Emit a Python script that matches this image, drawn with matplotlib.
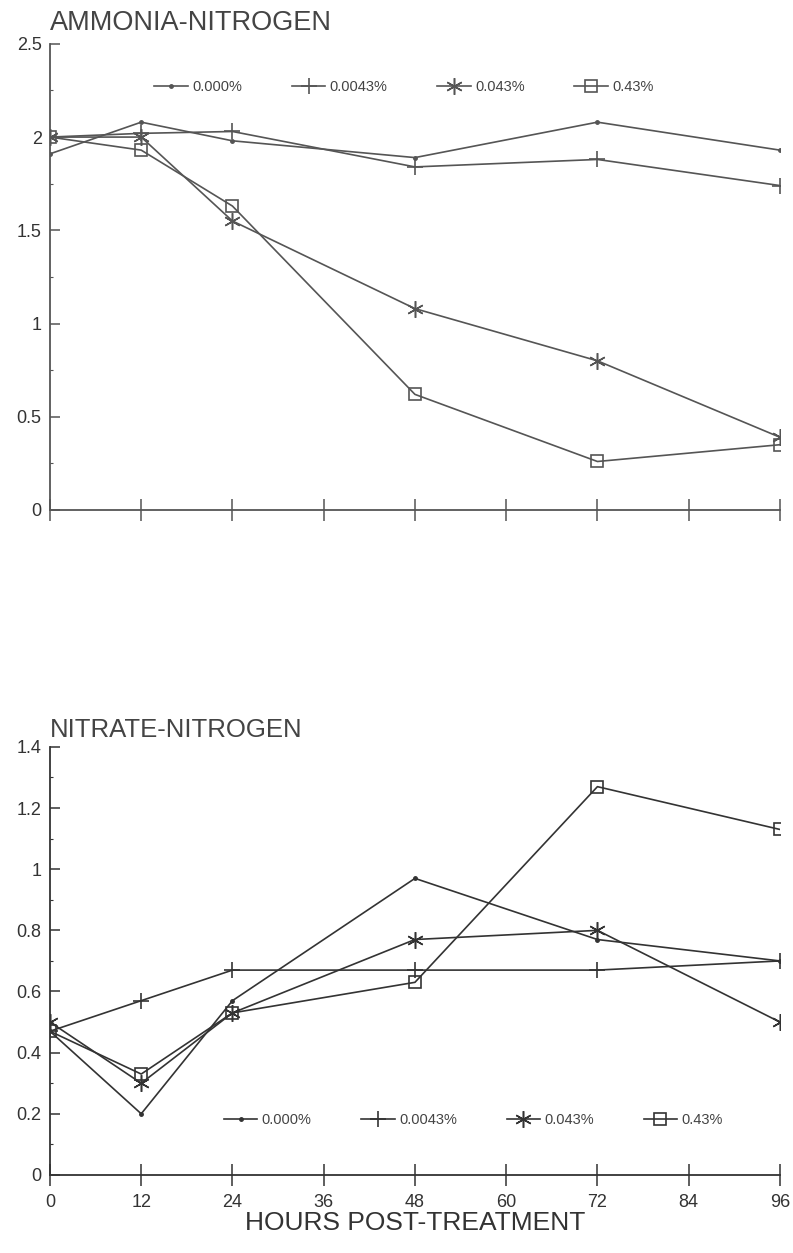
import matplotlib
matplotlib.use("Agg")
import matplotlib.pyplot as plt
from matplotlib.ticker import FuncFormatter, MultipleLocator

# datos
horas = [0, 12, 24, 48, 72, 96]
series = ["0.000%", "0.0043%", "0.043%", "0.43%"]

amonio_0000 = [1.91, 2.08, 1.98, 1.89, 2.08, 1.93]
amonio_00043 = [2.00, 2.02, 2.03, 1.84, 1.88, 1.74]
amonio_0043 = [2.00, 2.00, 1.55, 1.08, 0.80, 0.39]
amonio_043 = [2.00, 1.93, 1.63, 0.62, 0.26, 0.35]

nitrato_0000 = [0.47, 0.20, 0.57, 0.97, 0.77, 0.70]
nitrato_00043 = [0.47, 0.57, 0.67, 0.67, 0.67, 0.70]
nitrato_0043 = [0.50, 0.30, 0.53, 0.77, 0.80, 0.50]
nitrato_043 = [0.47, 0.33, 0.53, 0.63, 1.27, 1.13]

x_ticks = [0, 12, 24, 36, 48, 60, 72, 84, 96]

plt.rcParams['font.family'] = ['Liberation Sans', 'DejaVu Sans']

estilos = [
    dict(marker='.', markersize=5),
    dict(marker='+', markersize=12, markeredgewidth=1.2),
    dict(marker=(6, 2, 0), markersize=12, markeredgewidth=1.1),
    dict(marker='s', markersize=9, markerfacecolor='none', markeredgewidth=1.2),
]


def dibujar(ax, datos, color, ylim, ymajor, yminor, leg_pos):
    for valores, nombre, est in zip(datos, series, estilos):
        ax.plot(horas, valores, color=color, linewidth=1.2, label=nombre,
                markeredgecolor=color, **est)
    ax.set_xlim(0, 96)
    ax.set_ylim(*ylim)
    ax.set_xticks(x_ticks)
    ax.yaxis.set_major_locator(MultipleLocator(ymajor))
    ax.yaxis.set_minor_locator(MultipleLocator(yminor))
    ax.yaxis.set_major_formatter(FuncFormatter(lambda v, p: "%g" % round(v, 2)))
    for lado in ["top", "right"]:
        ax.spines[lado].set_visible(False)
    for lado in ["left", "bottom"]:
        ax.spines[lado].set_color(color)
        ax.spines[lado].set_linewidth(1.3)
    ax.tick_params(axis='x', direction='inout', length=16, width=1.1, color=color,
                   labelsize=13, labelcolor='#333333', pad=6)
    ax.tick_params(axis='y', which='major', direction='in', length=7, width=1.1,
                   color=color, labelsize=13, labelcolor='#333333', pad=6)
    ax.tick_params(axis='y', which='minor', direction='in', length=2, width=0.8,
                   color=color)
    ax.legend(loc='center', bbox_to_anchor=leg_pos, ncol=4, frameon=False,
              fontsize=10.5, handlelength=2.3, handletextpad=0.3, columnspacing=3.4,
              labelcolor='#444444')


fig = plt.figure(figsize=(7.93, 12.53), dpi=100)

ax1 = fig.add_axes([0.063, 0.593, 0.9205, 0.372])
dibujar(ax1, [amonio_0000, amonio_00043, amonio_0043, amonio_043], '#555555',
        (0, 2.5), 0.5, 0.25, (0.485, 0.908))
ax1.set_xticklabels([])
ax1.set_title("AMMONIA-NITROGEN", loc='left', fontsize=19.5, color='#444444',
              x=0.0, pad=10)

ax2 = fig.add_axes([0.063, 0.0623, 0.9205, 0.3416])
dibujar(ax2, [nitrato_0000, nitrato_00043, nitrato_0043, nitrato_043], '#333333',
        (0, 1.4), 0.2, 0.1, (0.58, 0.128))
ax2.set_title("NITRATE-NITROGEN", loc='left', fontsize=18.5, color='#444444',
              x=0.0, pad=7)
ax2.set_xlabel("HOURS POST-TREATMENT", fontsize=19, color='#333333', labelpad=0)

fig.savefig("out.png", dpi=100)
